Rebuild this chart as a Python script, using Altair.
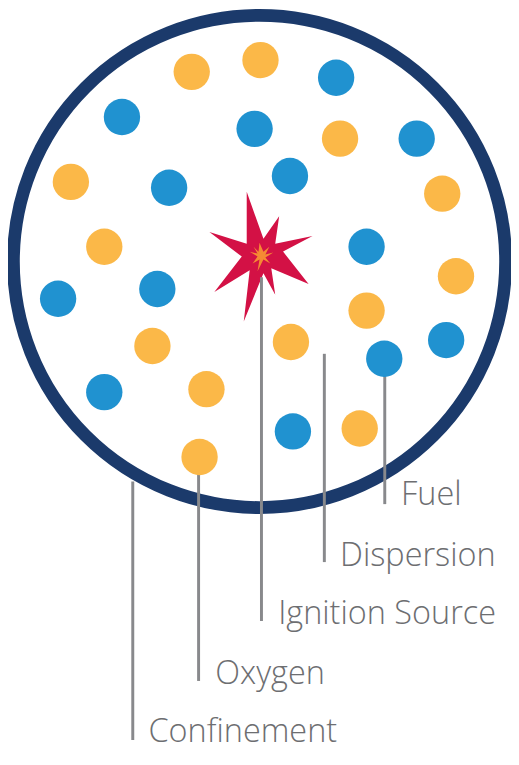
import altair as alt
import pandas as pd

# ---- data (reference image pixel coordinates) ----
circle_x = [263]
circle_y = [268]

orange_x = [194, 264, 345, 71, 449, 105, 463, 372, 154, 295, 209, 365, 202]
orange_y = [75, 63, 143, 187, 199, 253, 283, 318, 354, 350, 398, 438, 467]

blue_x = [341, 123, 258, 423, 171, 294, 372, 58, 159, 453, 390, 105, 297]
blue_y = [81, 121, 133, 143, 193, 181, 253, 306, 296, 348, 367, 401, 441]

spark_x = [265]
spark_y = [262]

labels = ["Fuel", "Dispersion", "Ignition Source", "Oxygen", "Confinement"]
label_x = [407, 345, 282, 218, 150]
label_y = [516, 578, 637, 698, 757]

line_x = [390.5, 329, 265, 201, 134]
line_y1 = [367, 362, 284, 467, 492]
line_y2 = [515, 574, 634, 695, 755]

# ---- styles ----
NAVY = "#1b3a6b"
ORANGE = "#fbb848"
BLUE = "#2092d0"
RED = "#d31145"
SPARK_ORANGE = "#f58a33"
LINE_GRAY = "#88898c"
TEXT_GRAY = "#6d6e71"

# drawing area on the page (fits the 519x765 window without overflow)
W, H = 503, 744
X0, X1 = 7, 519      # reference x-span drawn
Y0 = 10              # reference y at top of drawing area
K = W / (X1 - X0)    # uniform scale factor
Y1 = Y0 + H / K

star_pts = [(-15, -65), (2, -17), (18, -40), (14, -12), (52, -20), (22, -4),
            (48, 29), (10, 13), (14, 40), (2, 18), (-18, 67), (-12, 15),
            (-48, 37), (-20, 1), (-53, -24), (-15, -12)]
R = 67.0
star_path = "M" + " L".join(f"{x / R:.3f},{y / R:.3f}" for x, y in star_pts) + " Z"
star_size = (2 * R * K) ** 2

spark_pts = [(-2, -13), (2, -4), (8, -9), (4, -1), (12, -3), (4, 2), (9, 8),
             (2, 4), (-4, 16), (-2, 4), (-9, 8), (-4, 1), (-12, -4), (-4, -2),
             (-8, -9), (-3, -4)]
R2 = 16.0
spark_path = "M" + " L".join(f"{x / R2:.3f},{y / R2:.3f}" for x, y in spark_pts) + " Z"
spark_size = (2 * R2 * K) ** 2

xs = alt.Scale(domain=[X0, X1], range=[0, W], nice=False, zero=False)
ys = alt.Scale(domain=[Y0, Y1], range=[0, H], nice=False, zero=False)


def X(f="x"):
    return alt.X(f"{f}:Q", scale=xs, axis=None)


def Y(f="y"):
    return alt.Y(f"{f}:Q", scale=ys, axis=None)


circle_df = pd.DataFrame({"x": circle_x, "y": circle_y})
orange_df = pd.DataFrame({"x": orange_x, "y": orange_y})
blue_df = pd.DataFrame({"x": blue_x, "y": blue_y})
spark_df = pd.DataFrame({"x": spark_x, "y": spark_y})
label_df = pd.DataFrame({"label": labels, "x": label_x, "y": label_y})
line_df = pd.DataFrame({"x": line_x, "y": line_y1, "y2": line_y2})

ring = alt.Chart(circle_df).mark_point(
    shape="circle", filled=False, size=(501 * K) ** 2, strokeWidth=13 * K,
    color=NAVY, opacity=1
).encode(x=X(), y=Y())

star = alt.Chart(spark_df).mark_point(
    shape=star_path, filled=True, size=star_size, color=RED, opacity=1, strokeWidth=0
).encode(x=X(), y=Y())

rules = alt.Chart(line_df).mark_rule(color=LINE_GRAY, strokeWidth=3 * K).encode(
    x=X(), y=Y(), y2="y2:Q"
)

orange = alt.Chart(orange_df).mark_circle(size=(37 * K) ** 2, color=ORANGE, opacity=1).encode(
    x=X(), y=Y()
)
blue = alt.Chart(blue_df).mark_circle(size=(37 * K) ** 2, color=BLUE, opacity=1).encode(
    x=X(), y=Y()
)

spark = alt.Chart(spark_df).mark_point(
    shape=spark_path, filled=True, size=spark_size, color=SPARK_ORANGE, opacity=1, strokeWidth=0
).encode(x=X(), y=Y())

text = alt.Chart(label_df).mark_text(
    align="left", baseline="alphabetic", fontSize=33 * K, font="Open Sans",
    fontWeight=300, color=TEXT_GRAY
).encode(x=X(), y=Y(), text="label:N")

chart = alt.layer(ring, star, rules, orange, blue, spark, text).properties(
    width=W, height=H, padding=0, autosize=alt.AutoSizeParams(type="none")
).configure_view(stroke=None)

chart.save("out.html", embed_options={"renderer": "svg", "actions": False})
